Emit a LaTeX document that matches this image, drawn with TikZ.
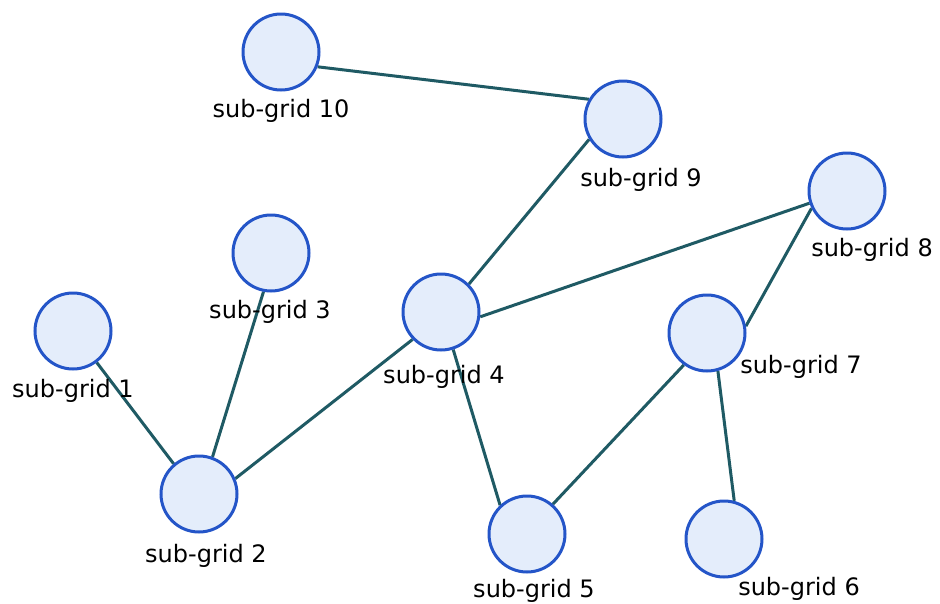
\documentclass[tikz,border=0pt]{standalone}
\usepackage{fontspec}
\setmainfont{DejaVu Sans}
\usetikzlibrary{backgrounds}
\definecolor{nodefill}{HTML}{E4EDFB}
\definecolor{nodeline}{HTML}{2455C8}
\definecolor{linkcol}{HTML}{1F5A64}
\tikzset{
  grid/.style={circle, draw=nodeline, fill=nodefill, line width=3pt, minimum size=76pt, inner sep=0pt},
  lbl/.style={font=\fontsize{24}{28}\selectfont, text=black, inner sep=0pt},
  link/.style={draw=linkcol, line width=3pt}
}
\begin{document}
\begin{tikzpicture}[x=1pt, y=-1pt]
  \useasboundingbox (0,0) rectangle (940,603);
  % sub-grids
  \node[grid] (g1)  at (73,331)  {};
  \node[grid] (g2)  at (199,494) {};
  \node[grid] (g3)  at (271,253) {};
  \node[grid] (g4)  at (441,312) {};
  \node[grid] (g5)  at (527,534) {};
  \node[grid] (g6)  at (724,539) {};
  \node[grid] (g7)  at (707,333) {};
  \node[grid] (g8)  at (847,191) {};
  \node[grid] (g9)  at (623,119) {};
  \node[grid] (g10) at (281,52)  {};
  % labels
  \node[lbl] (l1)  at (73,391)  {sub-grid 1};
  \node[lbl] (l2)  at (206,556) {sub-grid 2};
  \node[lbl] (l3)  at (270,312) {sub-grid 3};
  \node[lbl] (l4)  at (444,377) {sub-grid 4};
  \node[lbl] (l5)  at (534,591) {sub-grid 5};
  \node[lbl] (l6)  at (799,589) {sub-grid 6};
  \node[lbl] (l7)  at (801,367) {sub-grid 7};
  \node[lbl] (l8)  at (872,250) {sub-grid 8};
  \node[lbl] (l9)  at (641,180) {sub-grid 9};
  \node[lbl] (l10) at (281,111) {sub-grid 10};
  % links between sub-grids, rim to rim
  \begin{scope}[on background layer]
    \draw[link] (g10.-22) -- (g9.150);
    \draw[link] (g9.211) -- (g4.45);
    \draw[link] (g4.-7) -- (g8.198);
    \draw[link] (g8.206) -- (g7.10);
    \draw[link] (g3.259) -- (g2.70);
    \draw[link] (g1.-53) -- (g2.130);
    \draw[link] (g2.23) -- (g4.224);
    \draw[link] (g4.-72) -- (g5.133);
    \draw[link] (g5.49) -- (g7.234);
    \draw[link] (g7.-74) -- (g6.75);
  \end{scope}
\end{tikzpicture}
\end{document}
